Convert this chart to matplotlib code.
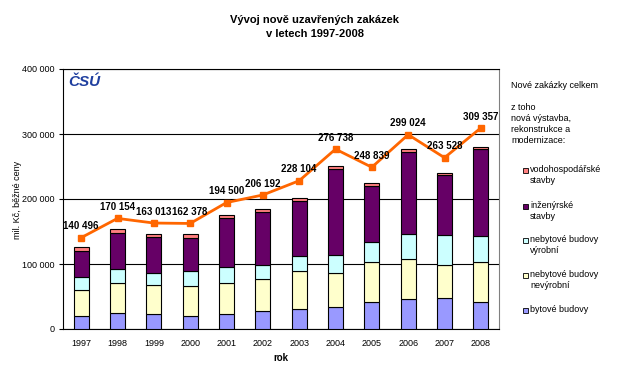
import matplotlib
matplotlib.use("Agg")
import matplotlib.pyplot as plt
import numpy as np

plt.rcParams['font.family'] = ['Liberation Sans', 'DejaVu Sans']

years = ['1997', '1998', '1999', '2000', '2001', '2002', '2003', '2004', '2005', '2006', '2007', '2008']
bytove = [19.5, 24.6, 23.0, 20.0, 23.0, 27.7, 30.8, 33.8, 41.5, 46.7, 48.2, 41.5]
nevyrobni = [40.5, 46.2, 44.7, 46.2, 47.8, 49.7, 58.4, 52.4, 62.1, 61.0, 50.3, 62.1]
vyrobni = [19.5, 21.5, 18.5, 23.0, 24.6, 21.1, 22.6, 27.6, 30.2, 39.0, 46.1, 39.5]
inzenyrske = [40.5, 55.4, 55.8, 50.8, 75.9, 81.5, 85.1, 132.9, 86.2, 126.1, 92.3, 134.3]
vodohosp = [6.0, 6.7, 4.7, 6.7, 4.6, 4.6, 4.6, 4.1, 5.1, 4.6, 3.1, 2.6]
celkem = [140496, 170154, 163013, 162378, 194500, 206192, 228104, 276738, 248839, 299024, 263528, 309357]

series = [
    (bytove, '#9999FF', 'bytové budovy'),
    (nevyrobni, '#FFFFCC', 'nebytové budovy\nnevýrobní'),
    (vyrobni, '#CCFFFF', 'nebytové budovy\nvýrobní'),
    (inzenyrske, '#660066', 'inženýrské\nstavby'),
    (vodohosp, '#FF8080', 'vodohospodářské\nstavby'),
]

fig = plt.figure(figsize=(6.26, 3.89), dpi=100)
W, H = 626, 389
ax = fig.add_axes([63 / W, 1 - 329 / H, (499 - 63) / W, (329 - 69) / H])

x = np.arange(len(years))
bottom = np.zeros(len(years))
for vals, col, lab in series:
    v = np.array(vals) * 1000
    ax.bar(x, v, bottom=bottom, width=0.42, color=col, edgecolor='black', linewidth=0.8, zorder=3)
    bottom += v

ax.plot(x, celkem, color='#FF6600', linewidth=2, marker='s', markersize=5, zorder=4)
for xi, v in zip(x, celkem):
    s = f"{v:,}".replace(',', ' ')
    ax.annotate(s, (xi, v), xytext=(0, 4.5), textcoords='offset points', ha='center', va='bottom',
                fontsize=7, fontweight='bold', zorder=5)

ax.set_xlim(-0.5, len(years) - 0.5)
ax.set_ylim(0, 400000)
ax.set_yticks([0, 100000, 200000, 300000, 400000])
ax.set_yticklabels(['0', '100 000', '200 000', '300 000', '400 000'], fontsize=6.5)
ax.set_xticks(x)
ax.set_xticklabels(years, fontsize=6.5)
ax.tick_params(axis='x', length=0, pad=7)
ax.tick_params(axis='y', length=3, pad=3)
ax.grid(axis='y', color='black', linewidth=0.8, zorder=0)
for sp in ['left', 'bottom', 'top']:
    ax.spines[sp].set_color('black')
ax.spines['right'].set_color('#808080')

fig.text(18 / W, 1 - 200 / H, 'mil. Kč, běžné ceny', rotation=90, fontsize=6.5, ha='center', va='center')
ax.set_xlabel('rok', fontsize=7, fontweight='bold', labelpad=4)

fig.text(315 / W, 1 - 27 / H, 'Vývoj nově uzavřených zakázek\nv letech 1997-2008', ha='center', va='center',
         fontsize=8, fontweight='bold', linespacing=1.6)

ax.text(0.012, 0.975, 'ČSÚ', transform=ax.transAxes, ha='left', va='top', fontsize=11,
        fontweight='bold', fontstyle='italic', color='#1F3F9F')

# legend-like texts
fig.text(511 / W, 1 - 86 / H, 'Nové zakázky celkem', fontsize=6.5, ha='left', va='center')
fig.text(511 / W, 1 - 124 / H, 'z toho\nnová výstavba,\nrekonstrukce a\nmodernizace:', fontsize=6.5,
         ha='left', va='center', linespacing=1.25)
leg_y = [170, 206, 240, 275, 310]
for (vals, col, lab), yy in zip(series[::-1], leg_y):
    fig.patches.append(matplotlib.patches.Rectangle((523 / W, 1 - (yy + 2.5) / H), 5 / W, 5 / H,
                                                    transform=fig.transFigure, facecolor=col,
                                                    edgecolor='black', linewidth=0.6))
    fig.text(530 / W, 1 - (yy - 5) / H, lab, fontsize=6.5, ha='left', va='top', linespacing=1.25)

fig.savefig('out.png', dpi=100)
